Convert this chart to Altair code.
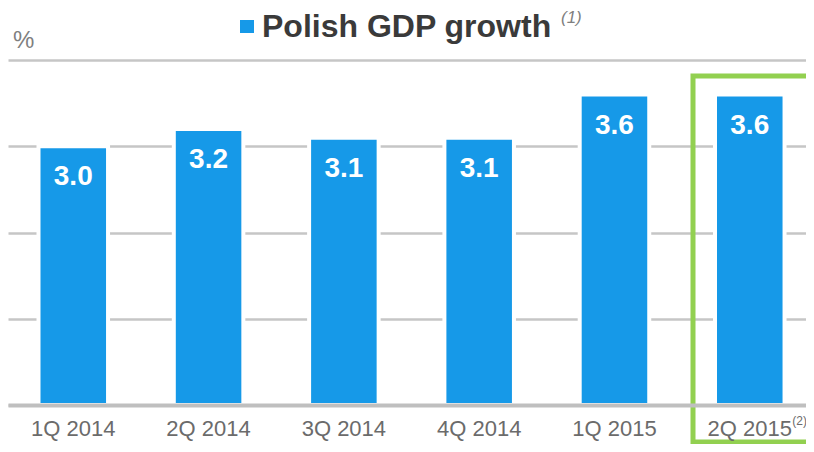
import altair as alt
import pandas as pd

quarters = ["1Q 2014", "2Q 2014", "3Q 2014", "4Q 2014", "1Q 2015", "2Q 2015"]
growth = [3.0, 3.2, 3.1, 3.1, 3.6, 3.6]
value_labels = ["3.0", "3.2", "3.1", "3.1", "3.6", "3.6"]
grid_values = [0, 1, 2, 3, 4]

df = pd.DataFrame({"q": quarters, "v": growth, "lab": value_labels})

BLUE = "#1699E8"
GREEN = "#92D050"
FONT = "Liberation Sans"

x = alt.X(
    "q:N", sort=quarters, title=None,
    scale=alt.Scale(paddingInner=0.486, paddingOuter=0.192, align=0.587),
    axis=alt.Axis(labelAngle=0, labelFont=FONT, labelFontSize=22, labelColor="#6B6B6B",
                  labelBaseline="alphabetic", labelPadding=30, ticks=False, tickSize=0,
                  domainColor="#BFBFBF", domainWidth=4, grid=False, zindex=1),
)
y = alt.Y(
    "v:Q", title=None, scale=alt.Scale(domain=[0, 4], nice=False),
    axis=alt.Axis(values=grid_values, labels=False, ticks=False, domain=False,
                  grid=True, gridColor="#C6C6C6", gridWidth=2.5),
)

base = alt.Chart(df)
bars = base.mark_bar(color=BLUE, stroke="white", strokeWidth=4).encode(x=x, y=y)
bar_text = base.mark_text(color="white", font=FONT, fontSize=28, fontWeight="bold",
                          baseline="alphabetic", dy=39).encode(
    x=alt.X("q:N", sort=quarters), y=alt.Y("v:Q"), text="lab:N")

note2 = base.transform_filter(alt.datum.q == "2Q 2015").mark_text(
    text="(2)", font=FONT, fontSize=12, color="#6B6B6B", align="left",
    baseline="alphabetic", dx=42.5).encode(x=alt.X("q:N", sort=quarters), y=alt.value(365))

one = alt.Data(values=[{}])
square = alt.Chart(one).mark_rect(color=BLUE).encode(
    x=alt.value(232), x2=alt.value(246), y=alt.value(-40), y2=alt.value(-27))
title = alt.Chart(one).mark_text(text="Polish GDP growth", font=FONT, fontSize=32,
                                 fontWeight="bold", color="#3A3A3A", align="left",
                                 baseline="alphabetic").encode(x=alt.value(254), y=alt.value(-23))
note1 = alt.Chart(one).mark_text(text="(1)", font=FONT, fontSize=17, fontStyle="italic",
                                 color="#7F7F7F", align="left",
                                 baseline="alphabetic").encode(x=alt.value(553), y=alt.value(-37))
pct = alt.Chart(one).mark_text(text="%", font=FONT, fontSize=24, color="#7F7F7F",
                               align="left", baseline="alphabetic").encode(
    x=alt.value(5), y=alt.value(-12))
box = alt.Chart(one).mark_rect(fill=None, stroke=GREEN, strokeWidth=5).encode(
    x=alt.value(685), x2=alt.value(830), y=alt.value(16), y2=alt.value(382))

chart = alt.layer(bars, bar_text, note2, square, title, note1, pct, box).properties(
    width=798, height=345,
    autosize=alt.AutoSizeParams(type="none"),
    padding={"left": 0, "top": 52, "right": 0, "bottom": 39},
).configure_view(stroke=None)

chart.save("out.html", embed_options={"renderer": "svg", "actions": False})
